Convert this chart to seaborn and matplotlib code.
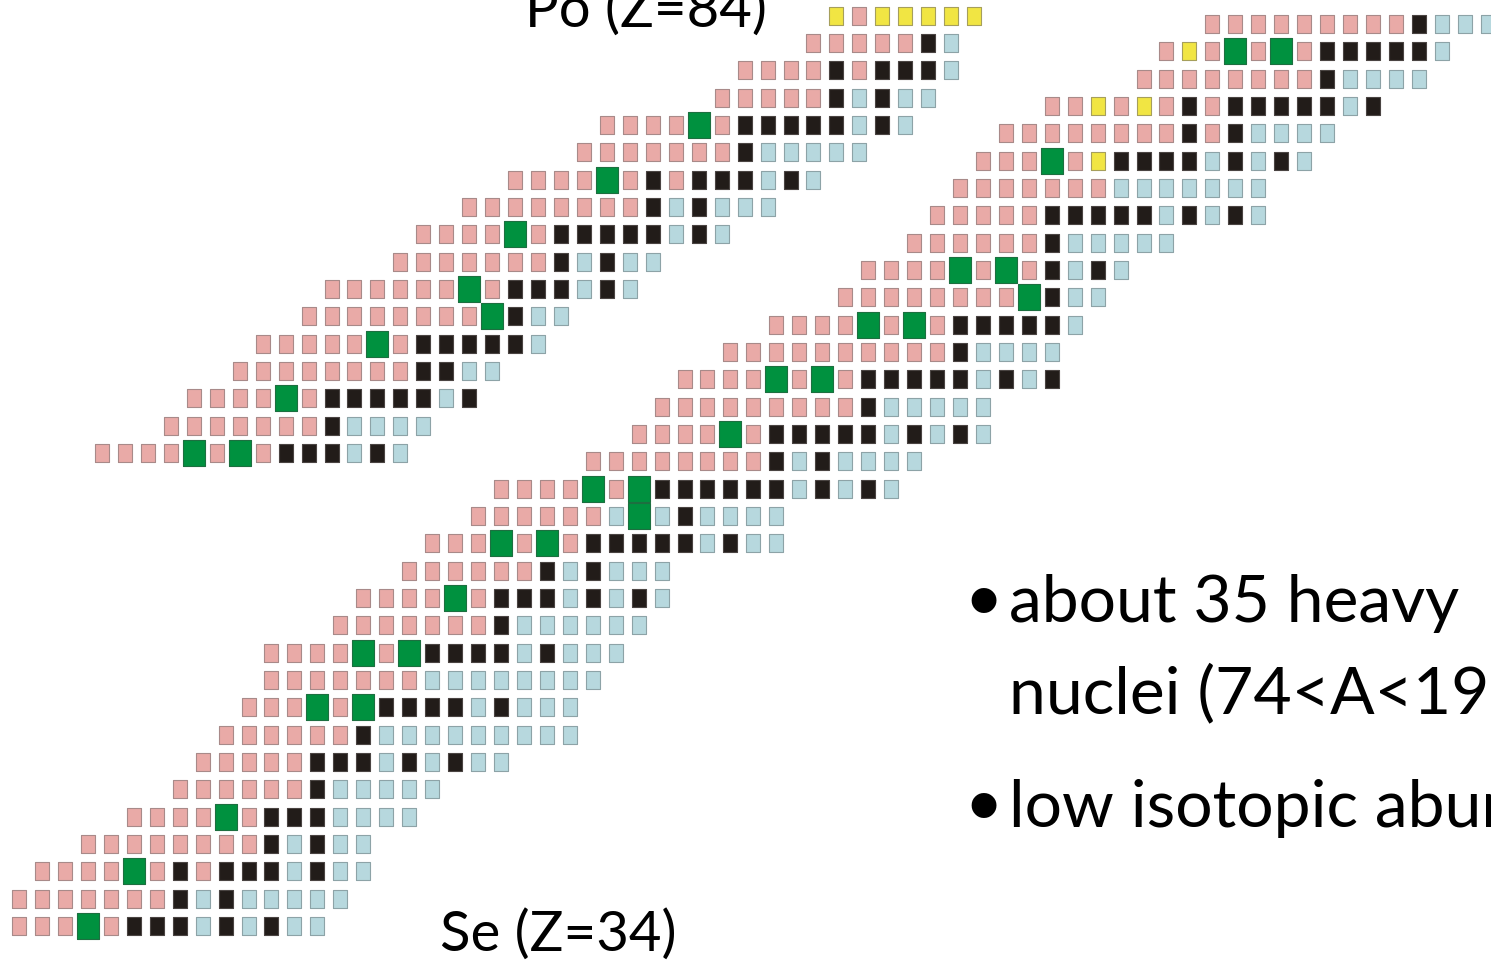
import matplotlib
matplotlib.use("Agg")
import matplotlib.pyplot as plt
import seaborn as sns
import pandas as pd

# Chart of nuclides around the p-process path, drawn in two pieces.
# Each row: proton number Z, neutron number N of its first cell, and one status code per cell:
#   p = proton-rich unstable, k = stable, b = neutron-rich unstable,
#   G = p-nucleus, Y = long-lived alpha emitter

# Lower piece: Se (Z=34) up to Ho (Z=67)
low_z = [34, 35, 36, 37, 38, 39, 40, 41, 42, 43, 44, 45, 46, 47, 48, 49, 50,
         51, 52, 53, 54, 55, 56, 57, 58, 59, 60, 61, 62, 63, 64, 65, 66, 67]
low_first_n = [37, 37, 38, 40, 42, 44, 45, 46, 47, 48, 48, 51, 52, 54, 55, 57, 58,
               62, 64, 65, 66, 68, 70, 73, 74, 76, 77, 78, 79, 80, 82, 86, 87, 89]
low_status = [
    "pppGpkkkbkbkbb",
    "pppppppkbkbbbbb",
    "ppppGpkpkkkbkbb",
    "ppppppppkbkbb",
    "ppppGpkkkbbbb",
    "ppppppkbbbbb",
    "pppppkkkbkbkbb",
    "ppppppkbbbbbbbbb",
    "pppGpGkkkkbkbbb",
    "pppppppbbbbbbbb",
    "ppppGpGkkkkbkbbb",
    "pppppppkbbbbbb",
    "ppppGpkkkbkbkb",
    "ppppppkbkbbb",
    "pppGpGpkkkkkbkbb",
    "ppppppbGbkbbbb",
    "ppppGpGkkkkkkbkbkb",
    "ppppppppkbkbbbb",
    "ppppGpkkkkkbkbkb",
    "pppppppppkbbbbb",
    "ppppGpGpkkkkkbkbk",
    "ppppppppppkbbbb",
    "ppppGpGpkkkkkb",
    "ppppppppGkbb",
    "ppppGpGpkbkb",
    "ppppppkbbbbb",
    "pppppkkkkkbkbkb",
    "pppppppbbbbbbb",
    "pppGpYkkkkbkbkb",
    "ppppppppkpkbbbb",
    "ppYpYpkpkkkkkbk",
    "ppppppppkbbbb",
    "pYpGpGpkkkkkb",
    "pppppppppkbbb",
]

# Upper piece: Er (Z=68) up to Po (Z=84)
high_z = [68, 69, 70, 71, 72, 73, 74, 75, 76, 77, 78, 79, 80, 81, 82, 83, 84]
high_first_n = [90, 93, 94, 96, 97, 99, 100, 103, 104, 106, 108, 111, 112, 117, 118, 121, 122]
high_status = [
    "ppppGpGpkkkbkb",
    "pppppppkbbbb",
    "ppppGpkkkkkbk",
    "ppppppppkkbb",
    "pppppGpkkkkkb",
    "ppppppppGkbb",
    "ppppppGpkkkbkb",
    "pppppppkbkbb",
    "ppppGpkkkkkbkb",
    "ppppppppkbkbbb",
    "ppppGpkpkkkbkb",
    "pppppppkbbbbb",
    "ppppGpkkkkkbkb",
    "pppppkbkbb",
    "ppppkpkkkb",
    "pppppkb",
    "YpYYYYY",
]

# Where each piece sits on the canvas (shift in N and Z units)
piece_shift = {"low": (0.0, 0.0), "high": (-49.383, -16.693)}


def cells(piece, zs, first_ns, statuses):
    dx, dy = piece_shift[piece]
    recs = []
    for z, n0, codes in zip(zs, first_ns, statuses):
        for i, code in enumerate(codes):
            recs.append({"N": n0 + i, "Z": z, "status": code,
                         "x": n0 + i + dx, "y": z + dy})
    return recs


df = pd.DataFrame(cells("low", low_z, low_first_n, low_status)
                  + cells("high", high_z, high_first_n, high_status))

sns.set_theme(style="white")
plt.rcParams["font.family"] = ["Lato", "DejaVu Sans"]

W, H = 1491, 962
fig = plt.figure(figsize=(W / 100, H / 100), dpi=100)
ax = fig.add_axes([0, 0, 1, 1])
ax.set_xlim(36.172, 101.14)
ax.set_ylim(32.72, 67.92)
ax.axis("off")

# slightly tall rectangular cell marker
cell = [(-0.425, -0.5), (0.425, -0.5), (0.425, 0.5), (-0.425, 0.5), (-0.425, -0.5)]

styles = {
    "p": dict(color="#e9aaa7", edgecolor="#a88a89", s=155),
    "b": dict(color="#b7d8de", edgecolor="#8da3a7", s=155),
    "k": dict(color="#221c19", edgecolor="#4a4442", s=155),
    "Y": dict(color="#f1e543", edgecolor="#a69f5c", s=155),
    "G": dict(color="#00913f", edgecolor="#1d6f40", s=362),
}

for code in ["p", "b", "k", "Y", "G"]:
    sub = df[df["status"] == code]
    st = styles[code]
    sns.scatterplot(data=sub, x="x", y="y", ax=ax, marker=cell,
                    color=st["color"], edgecolor=st["edgecolor"],
                    s=st["s"], linewidth=0.8, legend=False, zorder=3)


def put(px, py, s, size, **kw):
    fig.text(px / W, 1 - py / H, s, fontsize=size, va="baseline", ha="left",
             color="black", **kw)


put(440, 951, "Se (Z=34)", 40.5)
put(525, 27, "Po (Z=84)", 40.5)

bullet_font = ["Liberation Sans", "DejaVu Sans"]
put(967, 631, "\u2022", 66, family=bullet_font)
put(1009, 622, "about 35 heavy", 47.5)
put(1009, 713, "nuclei (74<A<196)", 47.5)
put(967, 836, "\u2022", 66, family=bullet_font)
put(1009, 827, "low isotopic abundances", 47.5)

fig.savefig("out.png", dpi=100)
